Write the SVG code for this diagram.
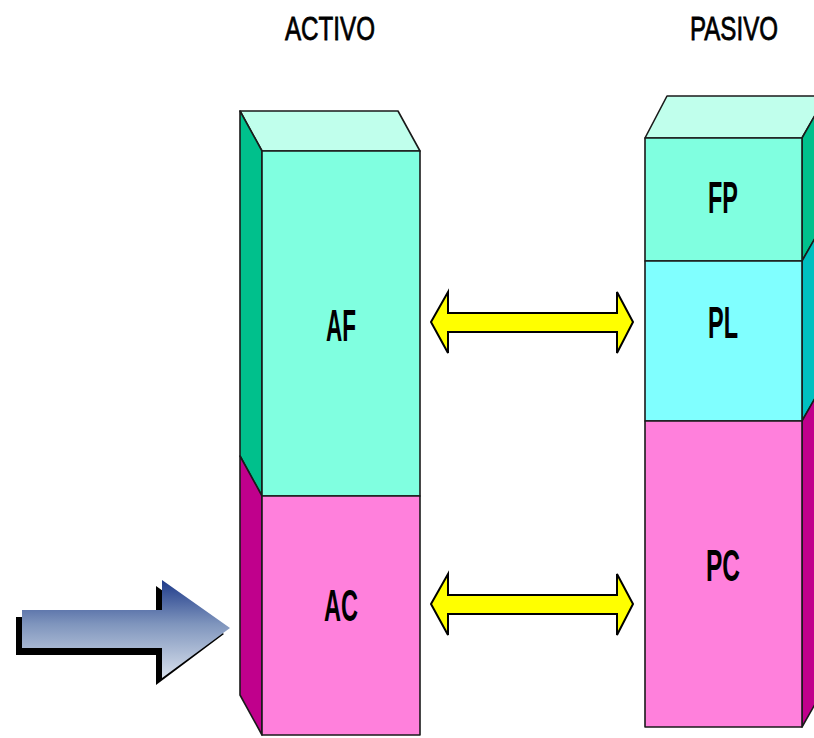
<svg xmlns="http://www.w3.org/2000/svg" width="814" height="738" viewBox="0 0 814 738">
  <style>
    .edge { stroke: #1a1a1a; stroke-width: 1.6; stroke-linejoin: round; }
    .top { fill: #c0ffec; }
    .teal { fill: #80ffe0; }
    .tealSide { fill: #00c08c; }
    .cyan { fill: #80ffff; }
    .cyanSide { fill: #00c0c0; }
    .pink { fill: #ff80dc; }
    .pinkSide { fill: #c0008c; }
    .lbl { font-family: "Liberation Sans", Arial, sans-serif; font-size: 44px; font-weight: bold; fill: #000; text-anchor: middle; }
    .head { font-family: "Liberation Sans", Arial, sans-serif; font-size: 34px; fill: #000; stroke: #000; stroke-width: 0.8; text-anchor: middle; }
    .dbl { fill: #ffff00; stroke: #000; stroke-width: 2; stroke-linejoin: miter; }
  </style>
  <defs>
    <linearGradient id="steel" x1="0" y1="0" x2="0" y2="1">
      <stop offset="0" stop-color="#1e3a8a"/>
      <stop offset="0.45" stop-color="#7f95bd"/>
      <stop offset="1" stop-color="#d8e0ec"/>
    </linearGradient>
  </defs>

  <rect width="814" height="738" fill="#ffffff"/>

  <!-- headings -->
  <text class="head" x="330" y="40" textLength="90" lengthAdjust="spacingAndGlyphs">ACTIVO</text>
  <text class="head" x="734" y="40" textLength="88" lengthAdjust="spacingAndGlyphs">PASIVO</text>

  <!-- asset column -->
  <g id="activo">
    <polygon class="top edge" points="240,111 398,111 420,151 262,151"/>
    <polygon class="tealSide edge" points="240,111 262,151 262,496 240,456"/>
    <polygon class="pinkSide edge" points="240,456 262,496 262,735 240,695"/>
  </g>
  <g id="af">
    <rect class="teal edge" x="262" y="151" width="158" height="345"/>
    <text class="lbl" x="341" y="341" textLength="30" lengthAdjust="spacingAndGlyphs">AF</text>
  </g>
  <g id="ac">
    <rect class="pink edge" x="262" y="496" width="158" height="239"/>
    <text class="lbl" x="341" y="621" textLength="34" lengthAdjust="spacingAndGlyphs">AC</text>
  </g>

  <!-- liabilities column -->
  <g id="pasivo">
    <polygon class="top edge" points="645,138 667,96 826,96 802,138"/>
    <polygon class="tealSide edge" points="802,138 826,96 826,219 802,261"/>
    <polygon class="cyanSide edge" points="802,261 826,219 826,379 802,421"/>
    <polygon class="pinkSide edge" points="802,421 826,379 826,685 802,727"/>
  </g>
  <g id="fp">
    <rect class="teal edge" x="645" y="138" width="157" height="123"/>
    <text class="lbl" x="723" y="213" textLength="30" lengthAdjust="spacingAndGlyphs">FP</text>
  </g>
  <g id="pl">
    <rect class="cyan edge" x="645" y="261" width="157" height="160"/>
    <text class="lbl" x="723" y="338" textLength="30" lengthAdjust="spacingAndGlyphs">PL</text>
  </g>
  <g id="pc">
    <rect class="pink edge" x="645" y="421" width="157" height="306"/>
    <text class="lbl" x="723" y="581" textLength="34" lengthAdjust="spacingAndGlyphs">PC</text>
  </g>

  <!-- connectors -->
  <g id="connectors">
    <polygon class="dbl" points="431,322 448,292 448,313 617,313 617,292 633,322 617,353 617,332 448,332 448,353"/>
    <polygon class="dbl" points="431,604 448,574 448,595 617,595 617,574 633,604 617,635 617,614 448,614 448,635"/>
    <g id="pointer">
      <polygon fill="#000" points="16,617 156,617 156,586 224,634 156,685 156,655 16,655"/>
      <polygon fill="url(#steel)" points="22,610 162,610 162,580 230,628 162,678 162,648 22,648"/>
    </g>
  </g>
</svg>
